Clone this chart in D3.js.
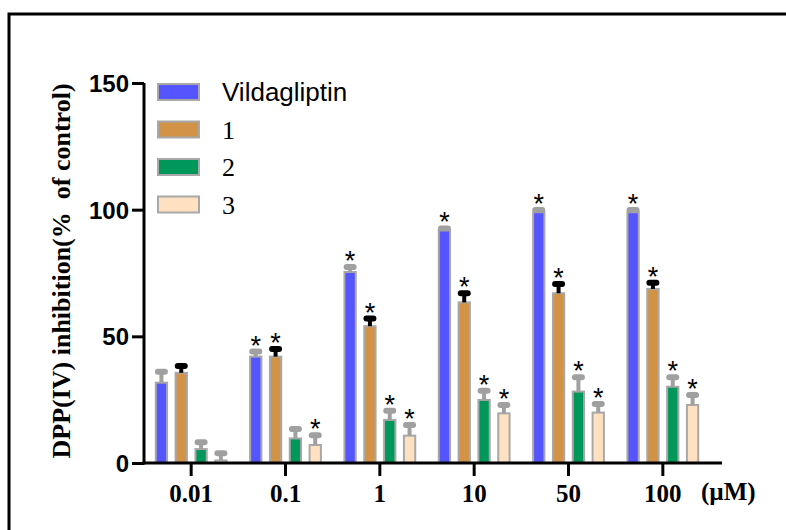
<!DOCTYPE html>
<html>
<head>
<meta charset="utf-8">
<script src="https://cdn.jsdelivr.net/npm/d3@7"></script>
<style>
  body { margin: 0; background: #fff; }
  svg { display: block; }
</style>
</head>
<body>
<div id="chart"></div>
<script>
// concentrations on the x axis and the four compounds
const concentrations = ["0.01", "0.1", "1", "10", "50", "100"];
const seriesNames = ["Vildagliptin", "1", "2", "3"];

// mean inhibition
const vildagliptin = [31.7, 42.0, 75.4, 92.0, 99.0, 99.0];
const compound1 = [35.6, 42.0, 54.0, 63.4, 67.0, 68.7];
const compound2 = [5.5, 9.7, 17.0, 24.9, 28.2, 30.1];
const compound3 = [1.0, 7.1, 10.8, 19.6, 19.9, 22.9];

// error (upper side only)
const vildagliptinErr = [4.3, 2.0, 2.0, 0.6, 0.9, 0.9];
const compound1Err = [2.7, 3.0, 3.0, 3.6, 3.7, 2.5];
const compound2Err = [2.7, 3.7, 3.6, 3.6, 5.6, 3.7];
const compound3Err = [2.8, 3.9, 4.2, 3.3, 3.4, 3.9];

// significance stars (1 = star shown)
const vildagliptinSig = [0, 1, 1, 1, 1, 1];
const compound1Sig = [0, 1, 1, 1, 1, 1];
const compound2Sig = [0, 0, 1, 1, 1, 1];
const compound3Sig = [0, 1, 1, 1, 1, 1];

const yTicks = [0, 50, 100, 150];

const colors = ["#5555ff", "#d39346", "#00985a", "#ffe1c2"];
const errColors = ["#a0a0a0", "#000000", "#a0a0a0", "#a0a0a0"];

const means = [vildagliptin, compound1, compound2, compound3];
const errs = [vildagliptinErr, compound1Err, compound2Err, compound3Err];
const sigs = [vildagliptinSig, compound1Sig, compound2Sig, compound3Sig];

// flatten into one row per bar
let bars = [];
seriesNames.forEach((s, si) => {
    concentrations.forEach((c, ci) => {
        bars.push({series: s, si: si, conc: c, value: means[si][ci], err: errs[si][ci], sig: sigs[si][ci]});
    });
});

const W = 786, H = 530;

let svg = d3.select("#chart")
    .append("svg")
    .attr("width", W)
    .attr("height", H);

// outer frame, runs off the right and bottom edges
svg.append("rect")
    .attr("x", 9)
    .attr("y", 14)
    .attr("width", 800)
    .attr("height", 560)
    .attr("fill", "none")
    .attr("stroke", "#000")
    .attr("stroke-width", 3);

// scales
const x0 = d3.scaleBand()
    .domain(concentrations)
    .range([144, 710])
    .padding(0);

const x1 = d3.scaleBand()
    .domain(seriesNames)
    .range([x0.bandwidth() / 2 - 36.4, x0.bandwidth() / 2 + 36.4])
    .paddingInner(0.328)
    .paddingOuter(0);

const y = d3.scaleLinear()
    .domain([0, 150])
    .range([463, 83]);

// bars
let g = svg.append("g");

g.selectAll(".bar")
    .data(bars)
    .enter().append("rect")
    .attr("class", "bar")
    .attr("x", d => x0(d.conc) + x1(d.series) + 1)
    .attr("y", d => y(d.value))
    .attr("width", x1.bandwidth() - 2)
    .attr("height", d => y(0) - y(d.value))
    .attr("fill", d => colors[d.si])
    .attr("stroke", "#a8a8a8")
    .attr("stroke-width", 2);

// error bars
const cx = d => x0(d.conc) + x1(d.series) + x1.bandwidth() / 2;

g.selectAll(".err")
    .data(bars)
    .enter().append("line")
    .attr("class", "err")
    .attr("x1", cx)
    .attr("x2", cx)
    .attr("y1", d => y(d.value))
    .attr("y2", d => y(d.value + d.err))
    .attr("stroke", d => errColors[d.si])
    .attr("stroke-width", 4);

g.selectAll(".cap")
    .data(bars)
    .enter().append("line")
    .attr("class", "cap")
    .attr("x1", d => cx(d) - 3.5)
    .attr("x2", d => cx(d) + 3.5)
    .attr("y1", d => y(d.value + d.err))
    .attr("y2", d => y(d.value + d.err))
    .attr("stroke", d => errColors[d.si])
    .attr("stroke-width", 6)
    .attr("stroke-linecap", "round");

// asterisks
g.selectAll(".star")
    .data(bars.filter(d => d.sig))
    .enter().append("text")
    .attr("class", "star")
    .attr("x", cx)
    .attr("y", d => y(d.value + d.err) + 3)
    .attr("text-anchor", "middle")
    .style("font-family", "Liberation Sans, Arial, sans-serif")
    .style("font-size", "27px")
    .text("*");

// y axis
let yAxis = svg.append("g")
    .attr("transform", "translate(144,0)")
    .call(d3.axisLeft(y).tickValues(yTicks).tickSize(12).tickSizeOuter(0).tickPadding(3));
yAxis.select(".domain").attr("stroke-width", 3).attr("d", "M0," + y(150) + "V" + (y(0) + 1.5));
yAxis.selectAll(".tick line").attr("stroke-width", 3);
yAxis.selectAll(".tick text")
    .style("font-family", "Liberation Sans, Arial, sans-serif")
    .style("font-weight", "bold")
    .style("font-size", "24px")
    .attr("dy", "0.36em");

// x axis
let xAxis = svg.append("g")
    .attr("transform", "translate(0,463)")
    .call(d3.axisBottom(x0).tickSize(13).tickSizeOuter(0).tickPadding(8));
xAxis.select(".domain").attr("stroke-width", 3).attr("d", "M142.5,0H722");
xAxis.selectAll(".tick line").attr("stroke-width", 3);
xAxis.selectAll(".tick text")
    .style("font-family", "Liberation Serif, Times New Roman, serif")
    .style("font-weight", "bold")
    .style("font-size", "25px");

// unit label
svg.append("text")
    .attr("x", 701)
    .attr("y", 500)
    .style("font-family", "Liberation Serif, Times New Roman, serif")
    .style("font-weight", "bold")
    .style("font-size", "25px")
    .text("(\u00b5M)");

// y axis title
svg.append("text")
    .attr("transform", "translate(70,271) rotate(-90)")
    .attr("text-anchor", "middle")
    .style("font-family", "Liberation Serif, Times New Roman, serif")
    .style("font-weight", "bold")
    .style("font-size", "26px")
    .style("white-space", "pre")
    .text("DPP(IV) inhibition(%  of control)");

// legend
let legend = svg.append("g");
legend.selectAll(".swatch")
    .data(seriesNames)
    .enter().append("rect")
    .attr("x", 158)
    .attr("y", (d, i) => 84 + i * 37.5)
    .attr("width", 41)
    .attr("height", 16)
    .attr("fill", (d, i) => colors[i])
    .attr("stroke", "#a8a8a8")
    .attr("stroke-width", 2);

legend.selectAll(".label")
    .data(seriesNames)
    .enter().append("text")
    .attr("x", 222)
    .attr("y", (d, i) => 101 + i * 37.5)
    .style("font-family", (d, i) => i === 0 ? "Liberation Sans, Arial, sans-serif" : "Liberation Serif, Times New Roman, serif")
    .style("font-size", "26px")
    .text(d => d);
</script>
</body>
</html>
